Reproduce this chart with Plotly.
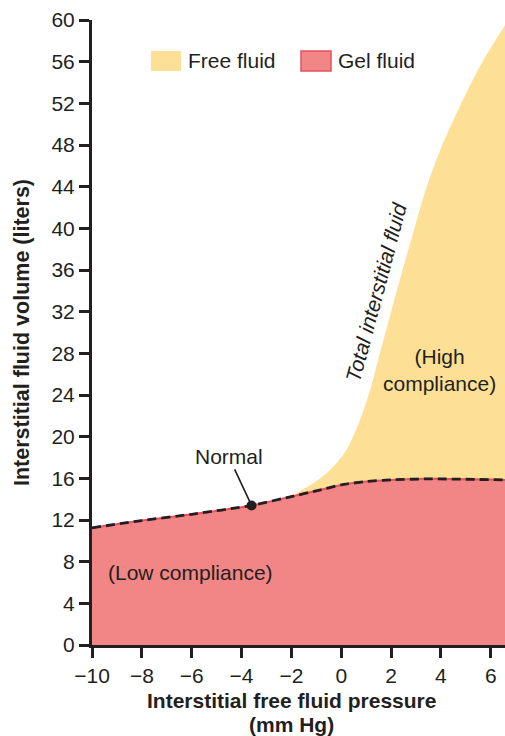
import plotly.graph_objects as go

# ---- data ----
gel_x = [-10, -8, -6, -3.6, -2, -1, 0, 1, 2, 3.5, 6.57]
gel_y = [11.25, 11.95, 12.55, 13.4, 14.25, 14.8, 15.37, 15.7, 15.85, 15.95, 15.85]

total_x = [-1.8, -1.2, -0.45, 0.2, 0.75, 1.15, 1.55, 2.0, 2.45, 2.9, 3.35, 3.9, 4.6, 5.55, 6.57]
total_y = [14.6, 15.4, 16.8, 18.7, 21.6, 24.4, 28.0, 32.0, 35.9, 39.7, 43.4, 47.1, 50.9, 55.5, 59.5]

normal_x = [-3.6]
normal_y = [13.4]

x_ticks = [-10, -8, -6, -4, -2, 0, 2, 4, 6]
y_ticks = list(range(0, 61, 4))

YELLOW = "#FDDF96"
PINK = "#F28585"
RED_EDGE = "#E8505F"
INK = "#231F20"
FONT = "Liberation Sans, Arial, Helvetica, sans-serif"

W, H = 505, 736
ML, MR, MT, MB = 92, 0, 20, 91
PW, PH = W - ML - MR, H - MT - MB
PLOT_LEFT, PLOT_BOTTOM = ML, MT + PH


def px(xp):
    return (xp - PLOT_LEFT) / PW


def py(yp):
    return (PLOT_BOTTOM - yp) / PH


fig = go.Figure()

# free fluid (yellow) under total curve
fig.add_trace(go.Scatter(
    x=total_x, y=total_y, mode="lines", fill="tozeroy",
    fillcolor=YELLOW, line=dict(width=0, color=YELLOW, shape="spline", smoothing=1),
    showlegend=False, hoverinfo="skip"))

# gel fluid (pink)
fig.add_trace(go.Scatter(
    x=gel_x, y=gel_y, mode="lines", fill="tozeroy",
    fillcolor=PINK, line=dict(width=2, color=RED_EDGE, shape="spline", smoothing=0.5),
    showlegend=False, hoverinfo="skip"))

# dashed boundary
fig.add_trace(go.Scatter(
    x=gel_x, y=gel_y, mode="lines",
    line=dict(width=2.8, color=INK, dash="9px,5px", shape="spline", smoothing=0.5),
    showlegend=False, hoverinfo="skip"))

# normal point
fig.add_trace(go.Scatter(
    x=normal_x, y=normal_y, mode="markers",
    marker=dict(size=10, color=INK), showlegend=False, hoverinfo="skip"))

annotations = [
    dict(x=normal_x[0], y=normal_y[0], xref="x", yref="y", text="Normal",
         showarrow=True, arrowhead=0, arrowwidth=1.6, arrowcolor=INK,
         ax=-23, ay=-49, standoff=3, font=dict(size=21, color=INK, family=FONT)),
    dict(x=-6.03, y=6.93, xref="x", yref="y", text="(Low compliance)",
         showarrow=False, font=dict(size=21, color=INK, family=FONT)),
    dict(x=3.93, y=26.4, xref="x", yref="y", text="(High<br>compliance)",
         showarrow=False, font=dict(size=21, color=INK, family=FONT)),
    dict(x=1.42, y=33.9, xref="x", yref="y", text="<i>Total interstitial fluid</i>",
         textangle=-75, showarrow=False, font=dict(size=21, color=INK, family=FONT)),
    # legend texts
    dict(x=px(186), y=py(61), xref="paper", yref="paper", text="Free fluid",
         xanchor="left", yanchor="middle", showarrow=False,
         font=dict(size=21, color=INK, family=FONT)),
    dict(x=px(336), y=py(61), xref="paper", yref="paper", text="Gel fluid",
         xanchor="left", yanchor="middle", showarrow=False,
         font=dict(size=21, color=INK, family=FONT)),
    # x-axis title (two lines)
    dict(x=px(291.7), y=py(700), xref="paper", yref="paper",
         text="<b>Interstitial free fluid pressure</b>",
         xanchor="center", yanchor="middle", showarrow=False,
         font=dict(size=21, color=INK, family=FONT)),
    dict(x=px(291.7), y=py(724), xref="paper", yref="paper",
         text="<b>(mm Hg)</b>",
         xanchor="center", yanchor="middle", showarrow=False,
         font=dict(size=21, color=INK, family=FONT)),
]

shapes = [
    dict(type="rect", xref="paper", yref="paper", x0=px(151), x1=px(181),
         y0=py(71), y1=py(51), fillcolor=YELLOW, line=dict(width=0), layer="above"),
    dict(type="rect", xref="paper", yref="paper", x0=px(301), x1=px(331),
         y0=py(71), y1=py(51), fillcolor=PINK, line=dict(width=1.5, color=RED_EDGE),
         layer="above"),
]

fig.update_layout(
    width=W, height=H,
    margin=dict(l=ML, r=MR, t=MT, b=MB, pad=0),
    paper_bgcolor="white", plot_bgcolor="white",
    font=dict(family=FONT, size=21, color=INK),
    showlegend=False,
    annotations=annotations,
    shapes=shapes,
    xaxis=dict(
        range=[-10, 6.57], tickvals=x_ticks, ticks="outside", ticklen=10,
        tickwidth=2.5, tickcolor=INK, showline=True, linewidth=3, linecolor=INK,
        showgrid=False, zeroline=False, tickfont=dict(size=21, color=INK),
    ),
    yaxis=dict(
        range=[0, 60], tickvals=y_ticks, ticks="outside", ticklen=10,
        tickwidth=2.5, tickcolor=INK, showline=True, linewidth=3, linecolor=INK,
        showgrid=False, zeroline=False, tickfont=dict(size=21, color=INK),
        title=dict(text="<b>Interstitial fluid volume (liters)</b>",
                   font=dict(size=21.5, color=INK), standoff=16),
    ),
)

fig.write_html(
    "out.html",
    config={"displayModeBar": False},
    post_script="document.body.style.margin='0';document.body.style.overflow='hidden';",
)
